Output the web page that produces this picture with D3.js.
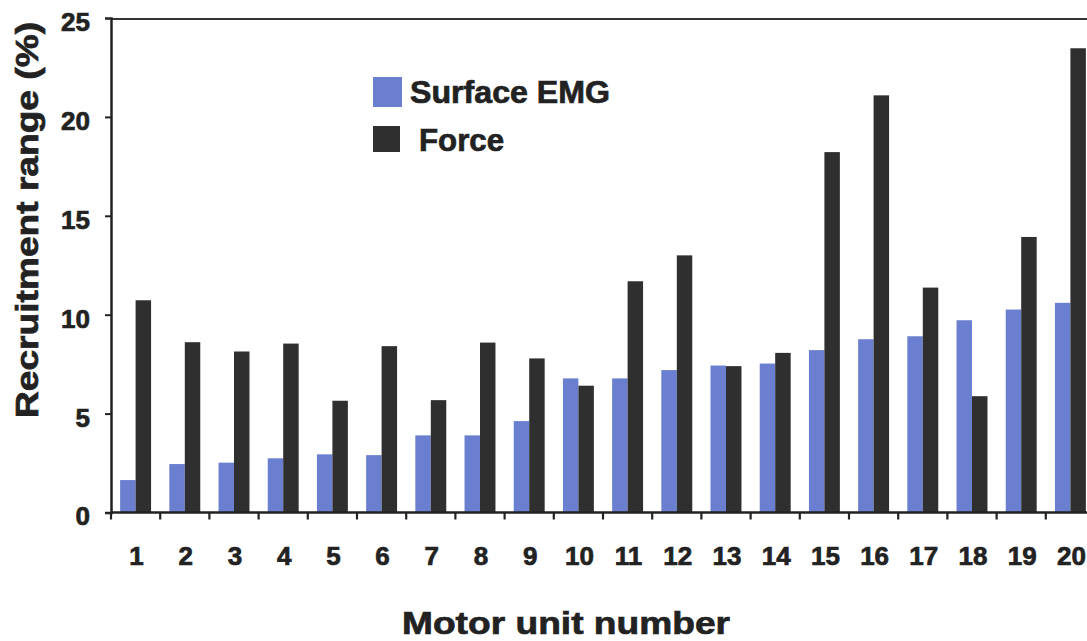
<!DOCTYPE html>
<html>
<head>
<meta charset="utf-8">
<script src="https://cdn.jsdelivr.net/npm/d3@7"></script>
<style>
  html, body { margin: 0; padding: 0; background: #fff; }
  svg { display: block; }
  text { font-family: "Liberation Sans", Arial, sans-serif; font-weight: bold; fill: #222; stroke: #222; stroke-width: 0.7px; }
</style>
</head>
<body>
<svg id="chart" width="1087" height="641"></svg>
<script>
// ---- data ----
const units = ["1","2","3","4","5","6","7","8","9","10","11","12","13","14","15","16","17","18","19","20"];
const series = ["Surface EMG", "Force"];
const surfaceEMG = [1.64, 2.45, 2.52, 2.74, 2.94, 2.90, 3.90, 3.90, 4.62, 6.78, 6.78, 7.20, 7.43, 7.53, 8.21, 8.76, 8.91, 9.72, 10.26, 10.60];
const force      = [10.73, 8.61, 8.14, 8.54, 5.65, 8.41, 5.68, 8.59, 7.79, 6.41, 11.69, 13.0, 7.40, 8.07, 18.22, 21.09, 11.37, 5.88, 13.93, 23.47];
const yTicks = [0, 5, 10, 15, 20, 25];
const colors = ["#6a7fcf", "#2f2f2f"];

const rows = units.map((u, i) => ({ unit: u, values: [surfaceEMG[i], force[i]] }));

const svg = d3.select("#chart");
const left = 111, bandW = 49.2;
const x0 = d3.scaleBand().domain(units).range([left, left + units.length * bandW]).paddingInner(0).paddingOuter(0);
const x1 = d3.scaleBand().domain(series).range([0, x0.bandwidth()]).paddingInner(0).paddingOuter(0.59);
const y = d3.scaleLinear().domain([0, 25]).range([512.5, 18]);

// bars
const g = svg.append("g");
g.selectAll("g.grp").data(rows).join("g")
  .attr("class", "grp")
  .attr("transform", d => `translate(${x0(d.unit)},0)`)
  .selectAll("rect").data(d => d.values.map((v, k) => ({ s: series[k], v, k })))
  .join("rect")
  .attr("x", d => x1(d.s))
  .attr("width", x1.bandwidth())
  .attr("y", d => y(d.v))
  .attr("height", d => y(0) - y(d.v))
  .attr("fill", d => colors[d.k]);

// top frame line
svg.append("line").attr("x1", left).attr("x2", 1087).attr("y1", y(25) + 1).attr("y2", y(25) + 1)
  .attr("stroke", "#333").attr("stroke-width", 2);

// y axis
const yAxis = d3.axisLeft(y).tickValues(yTicks).tickSize(6).tickFormat(d3.format("d"));
const ya = svg.append("g").attr("transform", `translate(${left},0)`).call(yAxis);
ya.select(".domain").attr("stroke", "#222").attr("stroke-width", 2.5);
ya.selectAll(".tick line").attr("stroke", "#222").attr("stroke-width", 2);
ya.selectAll(".tick text").attr("x", -21).attr("dy", "0.48em").style("font-size", "26px").attr("fill", "#222");
ya.selectAll(".tick").filter(d => d === 25).select("line").remove();

// x axis line + ticks at band boundaries
const xa = svg.append("g").attr("transform", `translate(0,${y(0)})`);
xa.append("line").attr("x1", left).attr("x2", 1087).attr("stroke", "#222").attr("stroke-width", 2.5);
xa.selectAll("line.tk").data(units).join("line").attr("class", "tk")
  .attr("x1", d => x0(d)).attr("x2", d => x0(d)).attr("y1", 0).attr("y2", 7)
  .attr("stroke", "#222").attr("stroke-width", 2.2);
xa.selectAll("text").data(units).join("text")
  .attr("x", d => x0(d) + x0.bandwidth() / 2 + 1)
  .attr("y", 52)
  .attr("text-anchor", "middle")
  .style("font-size", "26px")
  .text(d => d);

// axis titles
svg.append("text")
  .attr("transform", "translate(38,220) rotate(-90)")
  .attr("text-anchor", "middle")
  .attr("textLength", 396).attr("lengthAdjust", "spacingAndGlyphs")
  .style("font-size", "32px")
  .text("Recruitment range (%)");

svg.append("text")
  .attr("x", 566).attr("y", 634)
  .attr("text-anchor", "middle")
  .attr("textLength", 328).attr("lengthAdjust", "spacingAndGlyphs")
  .style("font-size", "32px")
  .text("Motor unit number");

// legend
const legend = svg.append("g");
const legItems = [
  { name: series[0], color: colors[0], sx: 373, sy: 77, sw: 29, sh: 30, tx: 410, ty: 103, tl: 200 },
  { name: series[1], color: colors[1], sx: 373, sy: 126, sw: 27, sh: 26, tx: 419, ty: 151, tl: 85 }
];
legItems.forEach(it => {
  legend.append("rect").attr("x", it.sx).attr("y", it.sy).attr("width", it.sw).attr("height", it.sh).attr("fill", it.color);
  legend.append("text").attr("x", it.tx).attr("y", it.ty)
    .attr("textLength", it.tl).attr("lengthAdjust", "spacingAndGlyphs")
    .style("font-size", "31px").text(it.name);
});
</script>
</body>
</html>
